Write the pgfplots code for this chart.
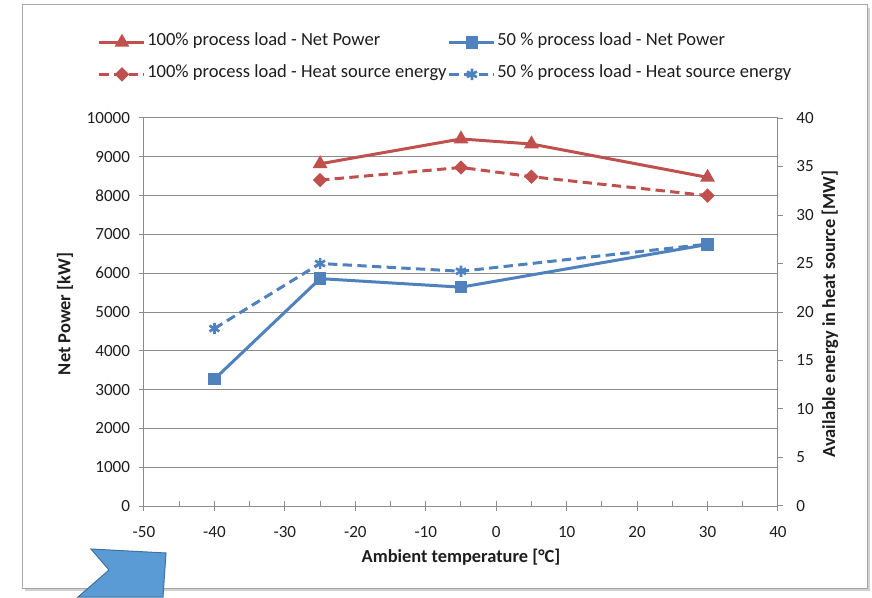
\documentclass[border=0pt]{standalone}
\usepackage{fontspec}
\setmainfont{Carlito}
\usepackage{pgfplots}
\pgfplotsset{compat=1.18}
\definecolor{exred}{RGB}{192,80,77}
\definecolor{exblue}{RGB}{79,129,189}
\definecolor{gridgray}{RGB}{140,140,140}
\definecolor{txt}{RGB}{30,30,30}
\definecolor{arrowfill}{RGB}{91,155,213}
\definecolor{arrowdraw}{RGB}{65,113,156}
\newcommand{\tickfont}{\fontsize{12.8pt}{14pt}\selectfont}
\newcommand{\labfont}{\fontsize{13.8pt}{15pt}\selectfont\bfseries}
\newcommand{\legfont}{\fontsize{13.9pt}{15pt}\selectfont}
\pgfplotsset{
  excel/.style={
    at={(108pt,68.25pt)}, anchor=south west,
    scale only axis, width=475.5pt, height=291pt,
    xmin=-50, xmax=40,
    /pgf/number format/assume math mode=true,
    /pgf/number format/1000 sep={},
    scaled ticks=false,
    axis line style={-, line width=0.75pt, gridgray},
    tick style={line width=0.75pt, gridgray},
    tick label style={font=\tickfont, text=txt},
  },
}
\begin{document}
\begin{tikzpicture}
\path[use as bounding box] (0,0) rectangle (654pt,447.75pt);
% frame with shadow
\fill[black!18] (18.5pt,4.5pt) rectangle (652.5pt,442pt);
\fill[white, draw=black!35, line width=0.75pt] (16.5pt,6.75pt) rectangle (650.25pt,444pt);

\begin{axis}[excel,
  ymin=0, ymax=10000,
  xtick={-50,-40,...,40}, minor x tick num=1,
  ytick={0,1000,...,10000},
  axis x line*=bottom, axis y line*=left,
  ymajorgrids, grid style={line width=0.75pt, gridgray},
  tick align=center, major tick length=7pt, minor tick length=4pt,
  minor x tick style={yshift=2pt},
  xticklabel style={yshift=-8pt},
  yticklabel style={xshift=-3.5pt},
  every axis x label/.style={at={(rel axis cs:0.5,-0.1314)}, anchor=center, font=\labfont, text=txt},
  every axis y label/.style={at={(rel axis cs:-0.1246,0.495)}, anchor=center, rotate=90, font=\labfont, text=txt},
  xlabel={Ambient temperature [°C]},
  ylabel={Net Power [kW]},
  legend columns=2,
  legend cell align=left,
  legend style={draw=none, fill=none, inner sep=0pt, outer sep=0pt,
    at={(rel axis cs:-0.0726,1.2165)}, anchor=north west,
    font=\legfont, text=txt,
    nodes={inner sep=1pt, text height=8pt, text depth=2.5pt},
    row sep=11.5pt},
  legend image code/.code={\draw[mark repeat=2,mark phase=2,#1] plot coordinates {(0pt,0pt)(16.9pt,0pt)(33.75pt,0pt)};},
]
\addplot[exred, line width=2.25pt, mark=triangle*, mark size=4.2pt, mark options={solid}]
  coordinates {(-25,8820) (-5,9460) (5,9330) (30,8470)};
\addlegendentry{100\% process load - Net Power}
\addplot[exblue, line width=2.25pt, mark=square*, mark size=3.6pt, mark options={solid}]
  coordinates {(-40,3270) (-25,5860) (-5,5640) (30,6740)};
\addlegendentry{50 \% process load - Net Power}
\addlegendimage{exred, line width=2.25pt, dash pattern=on 7pt off 4pt, mark=square*, mark size=2.7pt, mark options={solid, rotate=45}}
\addlegendentry{100\% process load - Heat source energy}
\addlegendimage{exblue, line width=2.25pt, dash pattern=on 7pt off 4pt, mark=asterisk, mark size=4.3pt, mark options={solid, line width=2pt}}
\addlegendentry{50 \% process load - Heat source energy}
\end{axis}

\begin{axis}[excel,
  ymin=0, ymax=40,
  ytick={0,5,...,40},
  axis y line*=right, axis x line=none,
  tick align=outside, major tick length=3.75pt,
  yticklabel style={xshift=6.5pt},
  every axis y label/.style={at={(rel axis cs:1.082,0.495)}, anchor=center, rotate=90, font=\labfont, text=txt},
  ylabel={Available energy in heat source [MW]},
]
\addplot[exred, line width=2.25pt, dash pattern=on 7pt off 4pt, mark=square*, mark size=2.7pt, mark options={solid, rotate=45}]
  coordinates {(-25,33.6) (-5,34.9) (5,33.95) (30,32.0)};
\addplot[exblue, line width=2.25pt, dash pattern=on 7pt off 4pt, mark=asterisk, mark size=4.3pt, mark options={solid, line width=2pt}]
  coordinates {(-40,18.3) (-25,25.0) (-5,24.2) (30,27.0)};
\end{axis}

% decorative arrow shape (as in the reference slide)
\filldraw[fill=arrowfill, draw=arrowdraw, line width=0.75pt]
  (68.25pt,36pt) -- (124.5pt,33pt) -- (122.25pt,0pt) -- (58.5pt,0pt) -- (81.75pt,20.25pt) -- cycle;
\end{tikzpicture}
\end{document}
